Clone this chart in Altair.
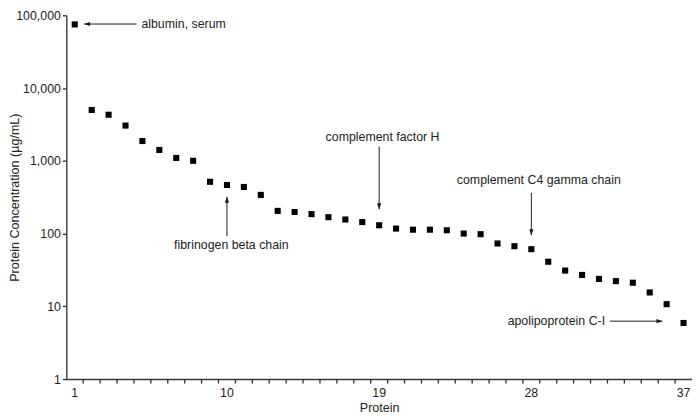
import altair as alt
import pandas as pd

# ---- data ----
protein_index = list(range(1, 38))
concentration = [75000, 5000, 4300, 3050, 1870, 1410, 1095, 1000, 515, 465,
                 437, 340, 205, 198, 185, 168, 156, 144, 130, 117,
                 113, 113, 111, 100, 98, 73, 67, 61, 41, 31,
                 27, 23.8, 22.2, 21.1, 15.5, 10.7, 5.9]

x_label_values = [1, 10, 19, 28, 37]
x_minor_ticks = [i + 0.5 for i in range(1, 37)]
y_tick_values = [1, 10, 100, 1000, 10000, 100000]

ann_text = ["albumin, serum", "complement factor H", "complement C4 gamma chain",
            "fibrinogen beta chain", "apolipoprotein C-I"]
ann_x = [4.94, 19.2, 28.44, 10.26, 32.36]
ann_y = [75900, 2130, 540, 69.7, 6.25]
ann_align = ["left", "center", "center", "center", "right"]

arrow_x = [4.65, 19, 28, 10, 32.65]
arrow_y = [75900, 1572, 363, 91.8, 6.25]
arrow_x2 = [1.55, 19, 28, 10, 35.75]
arrow_y2 = [75900, 216, 94.7, 321, 6.25]
arrow_dir = ["left", "down", "down", "up", "right"]

df = pd.DataFrame({"idx": protein_index, "conc": concentration})
ann = pd.DataFrame({"text": ann_text, "x": ann_x, "y": ann_y, "align": ann_align})
arr = pd.DataFrame({"x": arrow_x, "y": arrow_y, "x2": arrow_x2, "y2": arrow_y2, "dir": arrow_dir})
xlab = pd.DataFrame({"x": x_label_values, "y": [1] * len(x_label_values),
                     "t": [str(v) for v in x_label_values]})
xtk = pd.DataFrame({"x": x_minor_ticks, "y": [1] * len(x_minor_ticks)})

FONT = "Liberation Sans"
TXT = "#222222"

xscale = alt.Scale(domain=[0.5, 37.5], nice=False, zero=False)
yscale = alt.Scale(type="log", domain=[1, 100000], nice=False)

x_axis = alt.Axis(
    values=x_minor_ticks, labels=False, ticks=False,
    grid=False,
    title="Protein", titleX=316.5, titleY=29, titleBaseline="middle",
)
y_axis = alt.Axis(
    values=y_tick_values, format=",d",
    labelOverlap=False, labelFlush=False,
    grid=False, tickSize=4, labelPadding=2,
    title="Protein Concentration (µg/mL)", titleX=-52, titleBaseline="middle",
)

points = alt.Chart(df).mark_square(size=38, color="black", opacity=1).encode(
    x=alt.X("idx:Q", scale=xscale, axis=x_axis),
    y=alt.Y("conc:Q", scale=yscale, axis=y_axis),
)

x_ticks = alt.Chart(xtk).mark_tick(
    orient="vertical", size=4, thickness=1.3, yOffset=2.5, color="#2a2a2a", opacity=1
).encode(x="x:Q", y="y:Q")

x_labels = alt.Chart(xlab).mark_text(
    baseline="middle", align="center", dy=14, font=FONT, fontSize=12.5, color=TXT
).encode(x="x:Q", y="y:Q", text="t:N")

shafts = alt.Chart(arr).mark_rule(color="#1a1a1a", strokeWidth=1).encode(
    x="x:Q", y="y:Q", x2="x2:Q", y2="y2:Q"
)

heads = alt.Chart(arr).mark_point(filled=True, size=36, opacity=1, color="#1a1a1a", strokeWidth=0).encode(
    x="x2:Q", y="y2:Q",
    shape=alt.Shape("dir:N", legend=None, scale=alt.Scale(
        domain=["left", "right", "up", "down"],
        range=["M0,0L2,-0.7L2,0.7Z", "M0,0L-2,-0.7L-2,0.7Z",
               "M0,0L-0.7,2L0.7,2Z", "M0,0L-0.7,-2L0.7,-2Z"])),
)

def text_layer(al):
    return alt.Chart(ann).transform_filter(alt.datum.align == al).mark_text(
        align=al, baseline="middle", font=FONT, fontSize=12.5, color=TXT
    ).encode(x="x:Q", y="y:Q", text="text:N")

chart = alt.layer(
    points, x_ticks, x_labels, shafts, heads,
    text_layer("left"), text_layer("center"), text_layer("right")
).properties(
    width=633, height=368,
    autosize=alt.AutoSizeParams(type="none"),
    padding={"left": 59, "top": 5, "right": 0, "bottom": 37},
).configure_view(stroke=None).configure_axis(
    labelFont=FONT, titleFont=FONT, labelFontSize=12.5, titleFontSize=12.7,
    labelColor=TXT, titleColor=TXT, titleFontWeight="normal",
    domainColor="#3a3a3a", tickColor="#2a2a2a", domainWidth=1.4, tickWidth=1.3,
)

chart.save("out.html", embed_options={"renderer": "svg", "actions": False})
